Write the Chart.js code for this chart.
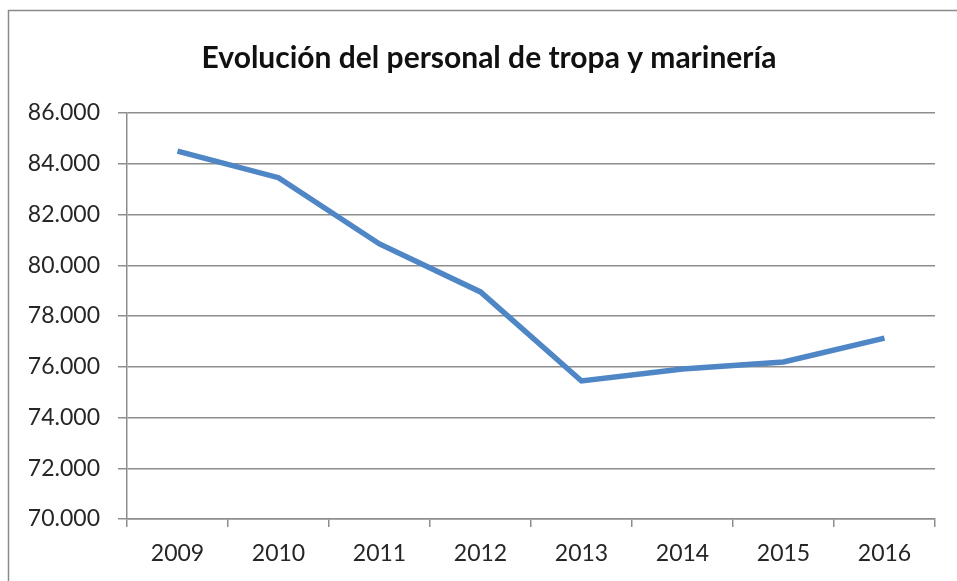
<!DOCTYPE html>
<html>
<head>
<meta charset="utf-8">
<script src="https://cdn.jsdelivr.net/npm/chart.js@4.4.0/dist/chart.umd.min.js"></script>
<style>
  html, body { margin: 0; padding: 0; background: #fff; }
  #wrap { width: 957px; height: 581px; }
</style>
</head>
<body>
<div id="wrap"><canvas id="tropaChart" width="957" height="581"></canvas></div>
<script>
// years and staff counts
const years = ['2009', '2010', '2011', '2012', '2013', '2014', '2015', '2016'];
const personal = [84500, 83450, 80840, 78950, 75440, 75910, 76190, 77130];
const yMin = 70000;
const yMax = 86000;
const yStep = 2000;
const chartTitle = 'Evolución del personal de tropa y marinería';

const gridColor = '#8e8e8e';
const textColor = '#262626';

// grey frame around the whole chart, plus the title (centred on the frame, not the canvas)
const framePlugin = {
  id: 'frame',
  beforeDraw(chart) {
    const ctx = chart.ctx;
    ctx.save();
    ctx.fillStyle = '#fff';
    ctx.fillRect(0, 0, chart.width, chart.height);
    ctx.strokeStyle = '#8a8a8a';
    ctx.lineWidth = 1.5;
    ctx.strokeRect(8.5, 10.5, 1000, 1000);
    ctx.restore();
  },
  afterDraw(chart) {
    const ctx = chart.ctx;
    ctx.save();
    ctx.fillStyle = '#111';
    ctx.font = 'bold 30px Lato';
    ctx.textAlign = 'center';
    ctx.textBaseline = 'middle';
    ctx.fillText(chartTitle, 489, 58);
    ctx.restore();
  }
};

function createChart(canvasId) {
  const ctx = document.getElementById(canvasId).getContext('2d');
  return new Chart(ctx, {
    type: 'line',
    data: {
      labels: years,
      datasets: [{
        label: chartTitle,
        data: personal,
        borderColor: '#4f86c6',
        borderWidth: 5.5,
        pointRadius: 0,
        tension: 0,
        fill: false
      }]
    },
    options: {
      responsive: false,
      maintainAspectRatio: false,
      animation: false,
      layout: { padding: { left: 15, right: 22, top: 113, bottom: 0 } },
      plugins: {
        legend: { display: false },
        tooltip: { enabled: false },
        title: { display: false }
      },
      scales: {
        x: {
          offset: true,
          grid: {
            offset: true,
            drawOnChartArea: false,
            drawTicks: true,
            tickLength: 8,
            color: gridColor,
            lineWidth: 1.5
          },
          border: { display: true, color: gridColor, width: 1.5 },
          ticks: {
            color: textColor,
            font: { family: 'Lato', size: 23 },
            padding: 13,
            maxRotation: 0
          },
          afterFit(scale) { scale.height = 62; }
        },
        y: {
          min: yMin,
          max: yMax,
          grid: {
            color: gridColor,
            lineWidth: 1.5,
            tickLength: 9
          },
          border: { display: true, color: gridColor, width: 1.5 },
          ticks: {
            stepSize: yStep,
            color: textColor,
            font: { family: 'Lato', size: 23 },
            padding: 18,
            callback: v => v.toLocaleString('de-DE')
          },
          afterFit(scale) { scale.width = 112; }
        }
      }
    },
    plugins: [framePlugin]
  });
}

createChart('tropaChart');
</script>
</body>
</html>
